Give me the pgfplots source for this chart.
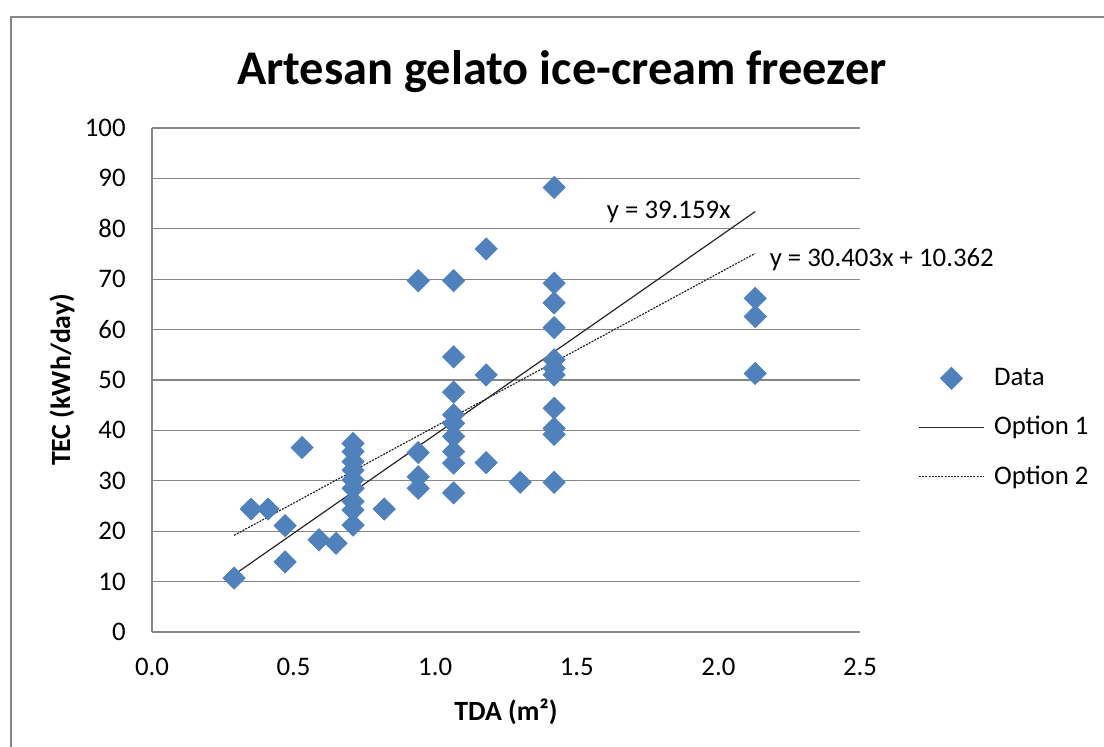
\documentclass[border=0pt]{standalone}
\usepackage{fontspec}
\setmainfont{Carlito}
\usepackage{pgfplots}
\pgfplotsset{compat=1.18}
\definecolor{xlblue}{HTML}{4F81BD}
\definecolor{xlgrid}{HTML}{868686}
\pgfplotsset{
    leg mark/.style={legend image code/.code={\draw[##1] plot coordinates {(0.57cm,0cm)};}},
    leg line/.style={legend image code/.code={\draw[##1] (0cm,0cm) -- (1.15cm,0cm);}},
}

\begin{document}
\begin{tikzpicture}
\useasboundingbox (-76pt,-57.5pt) rectangle (476pt,316pt);
% chart area frame (cut by the page on the right and bottom)
\draw[xlgrid, line width=1pt] (-70.5pt,-80pt) rectangle (490pt,307.5pt);
\begin{axis}[
    scale only axis,
    width=354pt, height=252pt,
    xmin=0, xmax=2.5, ymin=0, ymax=100,
    xtick={0,0.5,1,1.5,2,2.5},
    ytick={0,10,20,30,40,50,60,70,80,90,100},
    xticklabel style={/pgf/number format/fixed, /pgf/number format/fixed zerofill,
        /pgf/number format/precision=1},
    /pgf/number format/assume math mode=true,
    axis x line*=bottom, axis y line*=left,
    axis line style={xlgrid, line width=0.8pt},
    ymajorgrids, grid style={xlgrid, line width=0.6pt},
    major tick length=0pt,
    tick label style={font=\fontsize{13.4}{15}\selectfont},
    xticklabel style={anchor=center, yshift=-17.5pt},
    yticklabel style={anchor=east, inner sep=0pt, xshift=-13pt},
    xlabel={\textbf{TDA (m²)}},
    ylabel={\textbf{TEC (kWh/day)}},
    label style={font=\fontsize{13.9}{16}\selectfont},
    xlabel style={at={(axis description cs:0.5,-0.159)}, anchor=center},
    ylabel style={at={(axis description cs:-0.127,0.5)}, anchor=center},
    legend style={at={(1.082,0.405)}, anchor=west, draw=none, fill=none,
        inner sep=0pt, row sep=10pt, column sep=2.5pt,
        font=\fontsize{13.4}{15}\selectfont},
    legend cell align=left,
    clip=false,
]
\addplot[only marks, mark=square*, mark size=3.9pt,
    mark options={rotate=45, fill=xlblue, draw=xlblue}, leg mark]
coordinates {
(0.29,10.7)
(0.35,24.4) (0.41,24.4)
(0.47,21.1) (0.47,13.9)
(0.53,36.6)
(0.59,18.3)
(0.65,17.6)
(0.71,37.4) (0.71,35.8) (0.71,33.8) (0.71,32.1) (0.71,30.2)
(0.71,28.5) (0.71,25.9) (0.71,24.2) (0.71,21.2)
(0.82,24.4)
(0.94,69.7) (0.94,35.6) (0.94,30.8) (0.94,28.5)
(1.065,69.7) (1.065,54.6) (1.065,47.6) (1.065,43.1) (1.065,41.4)
(1.065,38.8) (1.065,35.8) (1.065,33.5) (1.065,27.6)
(1.18,76.0) (1.18,51.0) (1.18,33.6)
(1.30,29.7)
(1.42,88.2) (1.42,69.2) (1.42,65.3) (1.42,60.4) (1.42,54.0) (1.42,52.3)
(1.42,51.0) (1.42,44.4) (1.42,40.4) (1.42,39.2) (1.42,29.7)
(2.13,66.2) (2.13,62.6) (2.13,51.3)
};
\addlegendentry{Data}
\addplot[black!85, line width=0.6pt, mark=none, leg line]
coordinates {(0.29,11.36) (2.13,83.41)};
\addlegendentry{Option 1}
\addplot[black!85, line width=0.6pt, mark=none, dash pattern=on 1pt off 0.6pt, leg line]
coordinates {(0.29,19.18) (2.13,75.12)};
\addlegendentry{Option 2}
\node[anchor=west, inner sep=0pt, font=\fontsize{13.4}{15}\selectfont] at (axis cs:1.605,83.3) {y = 39.159x};
\node[anchor=west, inner sep=0pt, font=\fontsize{13.4}{15}\selectfont] at (axis cs:2.18,73.8) {y = 30.403x + 10.362};
\end{axis}
\node[font=\fontsize{24.2}{28}\selectfont\bfseries] at (205pt,280pt) {Artesan gelato ice-cream freezer};
\end{tikzpicture}
\end{document}
